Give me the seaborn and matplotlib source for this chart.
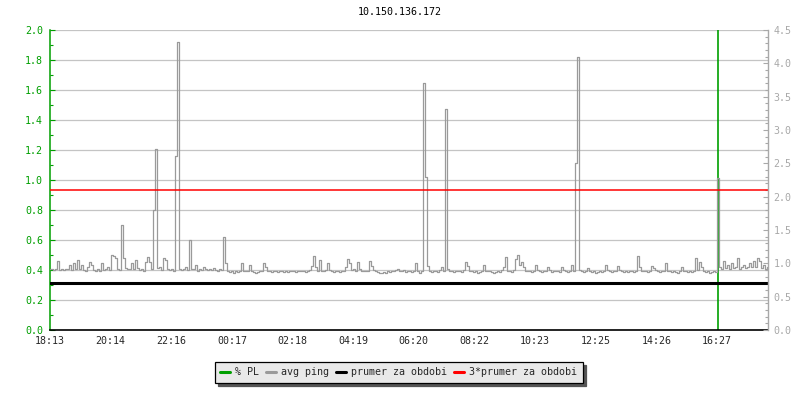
import matplotlib
matplotlib.use("Agg")
import matplotlib.pyplot as plt
from matplotlib.lines import Line2D
from matplotlib.ticker import MultipleLocator, FormatStrFormatter
import numpy as np
import pandas as pd
import seaborn as sns

sns.set_style("white")
plt.rcParams["font.family"] = ["DejaVu Sans Mono", "DejaVu Sans"]

TITLE = "10.150.136.172"
STEP_MIN = 4  # one sample every 4 minutes, starting 18:13

# avg ping [ms] (right axis), 20 samples per row
avg_ping = [
    0.92, 0.91, 0.90, 0.91, 1.03, 0.90, 0.91, 0.90, 0.92, 0.91, 0.97, 0.90, 1.00, 0.91, 1.05, 0.92, 0.97, 0.90, 0.89, 0.94,
    1.02, 0.98, 0.90, 0.88, 0.91, 0.89, 1.00, 0.90, 0.92, 0.95, 0.90, 1.13, 1.11, 1.08, 0.92, 0.90, 1.58, 1.08, 0.93, 0.91,
    0.92, 1.00, 0.91, 1.05, 0.93, 0.90, 0.92, 0.89, 1.02, 1.10, 1.02, 0.91, 1.80, 2.72, 0.93, 0.95, 0.90, 1.08, 1.05, 0.92,
    0.90, 0.91, 0.89, 2.61, 4.32, 0.92, 0.90, 0.91, 0.95, 0.90, 1.35, 0.92, 0.91, 0.97, 0.89, 0.92, 0.90, 0.94, 0.91, 0.90,
    0.91, 0.90, 0.93, 0.90, 0.89, 0.91, 0.90, 1.40, 1.00, 0.88, 0.87, 0.88, 0.86, 0.88, 0.87, 0.88, 1.00, 0.88, 0.89, 0.88,
    0.97, 0.88, 0.87, 0.86, 0.87, 0.88, 0.89, 1.00, 0.95, 0.89, 0.88, 0.87, 0.88, 0.88, 0.87, 0.89, 0.88, 0.87, 0.88, 0.87,
    0.88, 0.89, 0.88, 0.87, 0.88, 0.88, 0.89, 0.88, 0.87, 0.88, 0.90, 0.96, 1.11, 0.95, 0.88, 1.05, 0.89, 0.88, 0.90, 1.00,
    0.90, 0.88, 0.87, 0.88, 0.88, 0.87, 0.88, 0.89, 0.95, 1.06, 1.00, 0.90, 0.91, 0.88, 1.02, 0.92, 0.89, 0.88, 0.88, 0.89,
    1.03, 0.96, 0.90, 0.88, 0.87, 0.86, 0.86, 0.87, 0.86, 0.88, 0.87, 0.88, 0.89, 0.90, 0.92, 0.89, 0.88, 0.90, 0.87, 0.88,
    0.88, 0.87, 0.89, 1.00, 0.88, 0.86, 0.88, 3.71, 2.30, 0.96, 0.88, 0.87, 0.89, 0.88, 0.87, 0.90, 0.95, 0.88, 3.31, 0.92,
    0.89, 0.88, 0.87, 0.88, 0.89, 0.88, 0.87, 0.90, 1.02, 0.96, 0.89, 0.88, 0.87, 0.88, 0.86, 0.87, 0.88, 0.97, 0.89, 0.88,
    0.88, 0.87, 0.86, 0.87, 0.88, 0.87, 0.90, 0.95, 1.10, 0.89, 0.88, 0.87, 0.90, 1.06, 1.13, 0.97, 1.02, 0.95, 0.89, 0.88,
    0.89, 0.87, 0.88, 0.97, 0.90, 0.88, 0.87, 0.88, 0.89, 0.95, 0.90, 0.87, 0.88, 0.89, 0.88, 0.87, 0.95, 0.90, 0.88, 0.87,
    0.88, 0.97, 0.89, 2.50, 4.10, 0.90, 0.88, 0.87, 0.88, 0.93, 0.88, 0.87, 0.88, 0.86, 0.87, 0.88, 0.87, 0.89, 0.97, 0.90,
    0.88, 0.87, 0.88, 0.89, 0.96, 0.90, 0.88, 0.87, 0.88, 0.87, 0.88, 0.89, 0.87, 0.88, 1.11, 0.95, 0.88, 0.89, 0.88, 0.87,
    0.88, 0.96, 0.93, 0.90, 0.88, 0.87, 0.88, 0.89, 1.00, 0.89, 0.88, 0.87, 0.88, 0.87, 0.86, 0.88, 0.95, 0.89, 0.88, 0.87,
    0.88, 0.87, 0.89, 1.08, 0.90, 1.02, 0.95, 0.88, 0.87, 0.88, 0.86, 0.87, 0.88, 0.87, 2.28, 0.95, 0.92, 1.03, 0.93, 0.97,
    0.92, 1.00, 0.93, 0.95, 1.08, 0.92, 0.94, 0.98, 0.93, 0.95, 1.00, 0.94, 1.03, 0.95, 1.08, 1.04, 0.93, 0.98, 0.92, 0.94,
]
# % packet loss (left axis): a single burst around 16:41, off the scale
pl_loss = [0.0] * 334 + [10.0] + [0.0] * 25

mean_ping = 0.70  # "prumer za obdobi"

tick_minutes = [0, 121, 243, 364, 485, 606, 727, 849, 970, 1092, 1213, 1334]
tick_labels = ["18:13", "20:14", "22:16", "00:17", "02:18", "04:19",
               "06:20", "08:22", "10:23", "12:25", "14:26", "16:27"]

GREEN = "#009f00"
GRAY = "#9a9a9a"
AXGRAY = "#a8a8a8"
FS = 7.2

df = pd.DataFrame({
    "minute": np.arange(len(avg_ping)) * STEP_MIN,
    "ping": avg_ping,
    "pl": pl_loss,
})
loss = df[df["pl"] > 0]

fig = plt.figure(figsize=(8, 4), dpi=100)
ax = fig.add_axes([0.0625, 0.175, 0.8975, 0.75])
ax2 = ax.twinx()

# left axis: % PL
ax.vlines(loss["minute"], 0, loss["pl"], color=GREEN, lw=1.2)
ax.set_ylim(0, 2.0)
ax.set_xlim(0, df["minute"].iloc[-1])
ax.yaxis.set_major_locator(MultipleLocator(0.2))
ax.yaxis.set_minor_locator(MultipleLocator(0.1))
ax.yaxis.set_major_formatter(FormatStrFormatter("%.1f"))
ax.set_xticks(tick_minutes, tick_labels)
ax.grid(axis="y", color="#c4c4c4", lw=0.9)
ax.grid(axis="x", visible=False)
ax.tick_params(axis="y", which="major", direction="in", length=3.8, width=0.8,
               color=GREEN, labelcolor=GREEN, labelsize=FS, pad=5)
ax.tick_params(axis="y", which="minor", direction="in", length=2.2, width=0.8, color=GREEN)
ax.tick_params(axis="x", direction="in", length=3.8, width=0.8, color="black",
               labelsize=FS, pad=4)
ax.spines["left"].set_color(GREEN)
ax.spines["left"].set_linewidth(1.1)
ax.spines["bottom"].set_color("black")
ax.spines["bottom"].set_linewidth(1.2)
ax.spines["top"].set_visible(False)
ax.spines["right"].set_visible(False)

# right axis: ping in ms
sns.lineplot(data=df, x="minute", y="ping", ax=ax2, color=GRAY, lw=0.9,
             drawstyle="steps-mid", legend=False)
ax2.axhline(mean_ping, color="black", lw=2.2)
ax2.axhline(3 * mean_ping, color="red", lw=1.1)
ax2.set_ylim(0, 4.5)
ax2.yaxis.set_major_locator(MultipleLocator(0.5))
ax2.yaxis.set_minor_locator(MultipleLocator(0.1))
ax2.yaxis.set_major_formatter(FormatStrFormatter("%.1f"))
ax2.set_xlabel("")
ax2.set_ylabel("")
ax2.tick_params(axis="y", which="major", direction="in", length=3.8, width=0.8,
                color=AXGRAY, labelcolor=AXGRAY, labelsize=FS, pad=4)
ax2.tick_params(axis="y", which="minor", direction="in", length=2.2, width=0.8, color=AXGRAY)
for side in ["left", "top", "bottom"]:
    ax2.spines[side].set_visible(False)
ax2.spines["right"].set_color(AXGRAY)
ax2.spines["right"].set_linewidth(1.0)

fig.text(0.5, 0.97, TITLE, ha="center", va="center", fontsize=FS, color="black")

handles = [
    Line2D([], [], color=GREEN, lw=2.2),
    Line2D([], [], color=GRAY, lw=2.2),
    Line2D([], [], color="black", lw=2.2),
    Line2D([], [], color="red", lw=2.2),
]
labels = ["% PL", "avg ping", "prumer za obdobi", "3*prumer za obdobi"]
leg = fig.legend(handles, labels, loc="center", bbox_to_anchor=(0.4985, 0.07), ncol=4,
                 fontsize=FS, handlelength=1.0, handletextpad=0.5, columnspacing=0.7,
                 borderpad=0.55, fancybox=False, framealpha=1, facecolor="#e9e9e9",
                 edgecolor="black",
                 shadow={"ox": 2.2, "oy": -2.2, "color": "#555555", "alpha": 1.0})
leg.get_frame().set_linewidth(0.9)

fig.savefig("out.png", dpi=100)
